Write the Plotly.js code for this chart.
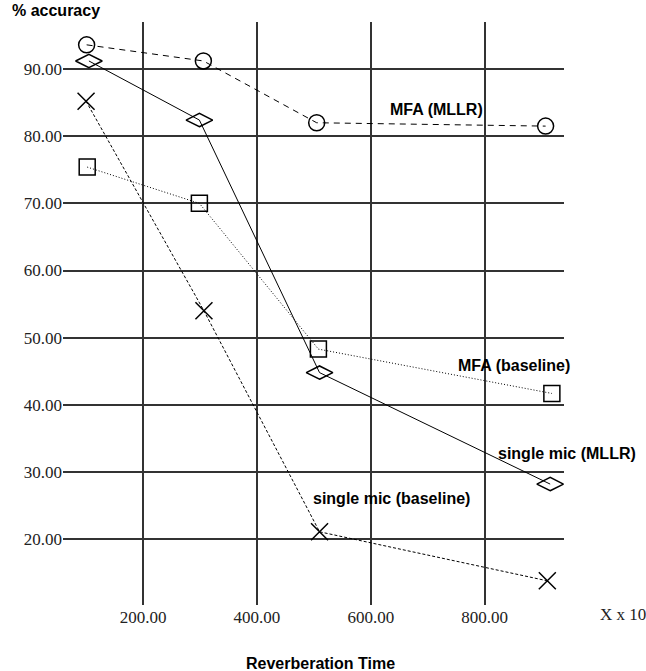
<!DOCTYPE html>
<html>
<head>
<meta charset="utf-8">
<script src="https://cdn.plot.ly/plotly-3.0.1.min.js"></script>
<style>html,body{margin:0;padding:0;background:#fff;}#chart{width:646px;height:671px;}</style>
</head>
<body>
<div id="chart"></div>
<script>
// Reverberation time (x 10) for each series
var xMfaMllr = [101, 306, 505, 907];
var xSingleMllr = [105, 299, 510, 915];
var xMfaBase = [102, 299, 508, 918];
var xSingleBase = [100, 307, 510, 910];

// % accuracy
var yMfaMllr = [93.6, 91.2, 82.0, 81.5];
var ySingleMllr = [91.2, 82.4, 44.8, 28.2];
var yMfaBase = [75.4, 70.0, 48.3, 41.7];
var ySingleBase = [85.2, 54.0, 21.1, 13.8];

var seriesNames = ["MFA (MLLR)", "single mic (MLLR)", "MFA (baseline)", "single mic (baseline)"];
var xTickVals = [200, 400, 600, 800];
var yTickVals = [20, 30, 40, 50, 60, 70, 80, 90];

var serif = "Liberation Serif";
var sans = "Liberation Sans";

function trace(x, y, name, symbol, size, dash) {
  return {
    x: x, y: y, name: name, type: "scatter", mode: "lines+markers",
    line: {color: "#000", width: 1, dash: dash},
    marker: {symbol: symbol, size: size, color: "#000", line: {color: "#000", width: 1.5}},
    cliponaxis: false
  };
}

var data = [
  trace(xMfaMllr, yMfaMllr, seriesNames[0], "circle-open", 16, "6px,5px"),
  trace(xSingleMllr, ySingleMllr, seriesNames[1], "diamond-wide-open", 19, "solid"),
  trace(xMfaBase, yMfaBase, seriesNames[2], "square-open", 16, "1px,2px"),
  trace(xSingleBase, ySingleBase, seriesNames[3], "x-thin-open", 17, "3px,2px")
];

var bold = {family: sans, size: 16, color: "#000"};
var serifFont = {family: serif, size: 17, color: "#222"};

var layout = {
  width: 646, height: 671,
  margin: {l: 63, r: 82, t: 22, b: 66, pad: 0},
  paper_bgcolor: "#fff", plot_bgcolor: "#fff",
  font: serifFont,
  showlegend: false,
  xaxis: {
    range: [59.5, 939.3], tickvals: xTickVals, tickformat: ".2f",
    showgrid: true, gridcolor: "#333", gridwidth: 2,
    zeroline: false, showline: false, ticks: "",
    tickfont: serifFont
  },
  yaxis: {
    range: [10.2, 97.0], tickvals: yTickVals, tickformat: ".2f",
    showgrid: true, gridcolor: "#333", gridwidth: 2,
    zeroline: false, showline: false, ticks: "",
    tickfont: serifFont
  },
  annotations: [
    {text: "<b>% accuracy</b>", xref: "paper", yref: "paper", x: -0.1058, y: 1.0189, xanchor: "left", yanchor: "middle", showarrow: false, font: bold},
    {text: "<b>" + seriesNames[0] + "</b>", xref: "x", yref: "y", x: 630, y: 84.0, xanchor: "left", yanchor: "middle", showarrow: false, font: bold},
    {text: "<b>" + seriesNames[2] + "</b>", xref: "x", yref: "y", x: 749.6, y: 45.8, xanchor: "left", yanchor: "middle", showarrow: false, font: bold},
    {text: "<b>" + seriesNames[1] + "</b>", xref: "x", yref: "y", x: 819.8, y: 32.8, xanchor: "left", yanchor: "middle", showarrow: false, font: bold},
    {text: "<b>" + seriesNames[3] + "</b>", xref: "x", yref: "y", x: 494.5, y: 26.1, xanchor: "left", yanchor: "middle", showarrow: false, font: bold},
    {text: "X x 10", xref: "paper", yref: "paper", x: 1.068, y: -0.01715, xanchor: "left", yanchor: "middle", showarrow: false, font: serifFont},
    {text: "<b>Reverberation Time</b>", xref: "paper", yref: "paper", x: 0.514, y: -0.0995, xanchor: "center", yanchor: "middle", showarrow: false, font: bold}
  ]
};

Plotly.newPlot("chart", data, layout, {displayModeBar: false, staticPlot: true});
</script>
</body>
</html>
